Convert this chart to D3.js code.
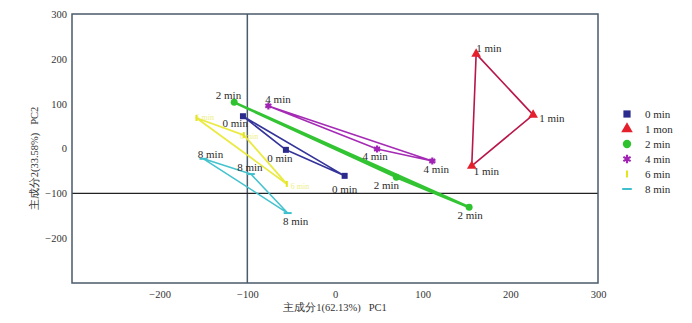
<!DOCTYPE html>
<html>
<head>
<meta charset="utf-8">
<script src="https://cdn.jsdelivr.net/npm/d3@7/dist/d3.min.js"></script>
<style>
  html, body { margin: 0; padding: 0; background: #fff; }
  svg text { font-family: "Liberation Serif", "DejaVu Serif", serif; }
</style>
</head>
<body>
<div id="chart"></div>
<script>
// ---- data ----
const series = ["0 min", "1 mon", "2 min", "4 min", "6 min", "8 min"];
const pointLabels = ["0 min", "1 min", "2 min", "4 min", "6 min", "8 min"];
const pc1Values = [
  [-105, -56, 11],
  [161, 226, 156],
  [-115, 70, 153],
  [-76, 48, 111],
  [-158, -104, -55],
  [-150, -96, -54]
];
const pc2Values = [
  [72, -3, -61],
  [211, 75, -39],
  [103, -64, -131],
  [95, -1, -28],
  [68, 30, -79],
  [-23, -57, -144]
];
const xTicks = [-200, -100, 0, 100, 200, 300];
const yTicks = [-200, -100, 0, 100, 200, 300];
const xTitle = "主成分1(62.13%)\u00a0\u00a0\u00a0PC1";
const yTitle = "主成分2(33.58%)\u00a0\u00a0\u00a0PC2";

// ---- styles ----
const markerColors = ["#2b2b8e", "#e3202c", "#2fc22f", "#a023b3", "#e4e41c", "#3ec0cc"];
const lineColors = ["#34349a", "#b8174a", "#33c433", "#a52bb5", "#e8e830", "#45c3cf"];
const lineWidths = [1.6, 1.6, 2.6, 1.6, 1.8, 1.6];
// label placement per point [dx, dy, anchor]
const labelPos = [
  [[5, 11, "end"], [-6, 12, "middle"], [0, 17, "middle"]],
  [[0, -2, "start"], [6, 7, "start"], [2, 9, "start"]],
  [[7, -3, "end"], [-10, 12, "middle"], [1, 12, "middle"]],
  [[-3, -3, "start"], [-2, 11, "middle"], [4, 12, "middle"]],
  [[-1, 2, "start"], [-4, 4, "start"], [4, 5, "start"]],
  [[7, -1, "middle"], [-1, -3, "middle"], [8, 12, "middle"]]
];

const W = 692, H = 323;
const svg = d3.select("#chart").append("svg").attr("width", W).attr("height", H);

const x = d3.scaleLinear().domain([-300, 300]).range([72, 598]);
const y = d3.scaleLinear().domain([-300, 300]).range([283, 14]);

// reference lines
svg.append("line").attr("x1", x(-100)).attr("x2", x(-100)).attr("y1", y(300)).attr("y2", y(-300))
  .attr("stroke", "#4a5b6b").attr("stroke-width", 1.5);
svg.append("line").attr("x1", x(-300)).attr("x2", x(300)).attr("y1", y(-100)).attr("y2", y(-100))
  .attr("stroke", "#222").attr("stroke-width", 1.2);

// frame
svg.append("rect").attr("x", x(-300)).attr("y", y(300)).attr("width", x(300) - x(-300))
  .attr("height", y(-300) - y(300)).attr("fill", "none").attr("stroke", "#4a5b6b").attr("stroke-width", 1.5);

// axes (labels only)
const xAxis = d3.axisBottom(x).tickValues(xTicks).tickSize(0).tickPadding(8).tickFormat(d => d < 0 ? "\u2212" + Math.abs(d) : d);
const gx = svg.append("g").attr("transform", `translate(0,${y(-300)})`).call(xAxis);
gx.select(".domain").remove();
gx.selectAll("text").attr("font-size", 10.5).attr("fill", "#333").attr("font-family", "Liberation Serif");

const yAxis = d3.axisLeft(y).tickValues(yTicks).tickSize(0).tickPadding(5).tickFormat(d => d < 0 ? "\u2212" + Math.abs(d) : d);
const gy = svg.append("g").attr("transform", `translate(${x(-300)},0)`).call(yAxis);
gy.select(".domain").remove();
gy.selectAll("text").attr("font-size", 10.5).attr("fill", "#333").attr("font-family", "Liberation Serif");

svg.append("text").attr("x", (x(-300) + x(300)) / 2).attr("y", 311).attr("text-anchor", "middle")
  .attr("font-size", 10.5).attr("fill", "#333").text(xTitle);
svg.append("text").attr("transform", `translate(38,${(y(300) + y(-300)) / 2 + 10}) rotate(-90)`)
  .attr("text-anchor", "middle").attr("font-size", 10.5).attr("fill", "#333").text(yTitle);

// marker drawing
function drawMarker(g, i, cx, cy, scale) {
  const c = markerColors[i];
  const s = scale || 1;
  if (i === 0) {
    g.append("rect").attr("x", cx - 3 * s).attr("y", cy - 3 * s).attr("width", 6 * s).attr("height", 6 * s).attr("fill", c);
  } else if (i === 1) {
    g.append("path").attr("d", d3.symbol(d3.symbolTriangle, 40 * s * s)()).attr("transform", `translate(${cx},${cy})`).attr("fill", c);
  } else if (i === 2) {
    g.append("path").attr("d", d3.symbol(d3.symbolCircle, 38 * s * s)()).attr("transform", `translate(${cx},${cy})`).attr("fill", c);
  } else if (i === 3) {
    g.append("path").attr("d", d3.symbol(d3.symbolAsterisk, 34 * s * s)()).attr("transform", `translate(${cx},${cy})`)
      .attr("stroke", c).attr("stroke-width", 2.2).attr("fill", "none");
  } else if (i === 4) {
    g.append("line").attr("x1", cx).attr("x2", cx).attr("y1", cy - 3 * s).attr("y2", cy + 3 * s)
      .attr("stroke", c).attr("stroke-width", 2);
  } else {
    g.append("line").attr("x1", cx - 4 * s).attr("x2", cx + 4 * s).attr("y1", cy).attr("y2", cy)
      .attr("stroke", c).attr("stroke-width", 2);
  }
}

// series: closed triangles
const lineGen = d3.line().x(d => x(d[0])).y(d => y(d[1])).curve(d3.curveLinearClosed);
const order = [4, 5, 0, 2, 3, 1];
order.forEach(i => {
  const pts = pc1Values[i].map((v, k) => [v, pc2Values[i][k]]);
  const g = svg.append("g");
  g.append("path").attr("d", lineGen(pts)).attr("fill", "none")
    .attr("stroke", lineColors[i]).attr("stroke-width", lineWidths[i])
    .attr("stroke-linejoin", "round").attr("opacity", i === 4 ? 0.9 : 1);
  pts.forEach((p, k) => {
    drawMarker(g, i, x(p[0]), y(p[1]), 1);
    const lp = labelPos[i][k];
    g.append("text").attr("x", x(p[0]) + lp[0]).attr("y", y(p[1]) + lp[1])
      .attr("text-anchor", lp[2]).attr("font-size", i === 4 ? 8 : 11)
      .attr("fill", i === 4 ? "#e8e850" : "#2a2a2a").attr("opacity", i === 4 ? 0.7 : 1)
      .text(pointLabels[i]);
  });
});

// legend
const legend = svg.append("g");
series.forEach((s, i) => {
  const ly = 114 + i * 15;
  drawMarker(legend, i, 627, ly, 1.2);
  legend.append("text").attr("x", 645).attr("y", ly + 4).attr("font-size", 11).attr("fill", "#2a2a2a").text(s);
});
</script>
</body>
</html>
